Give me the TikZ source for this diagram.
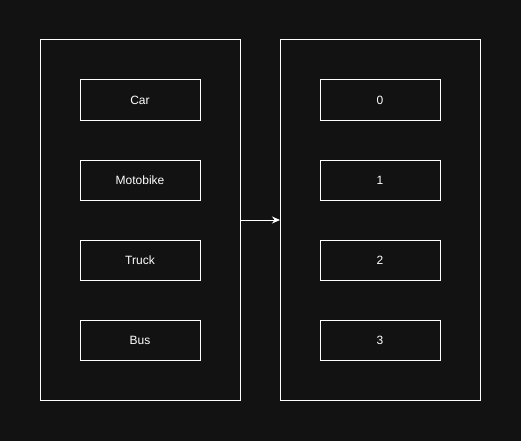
\documentclass[tikz,border=0pt]{standalone}
\usepackage{fontspec}
\setmainfont{Liberation Sans}
\usetikzlibrary{arrows.meta, positioning}
\definecolor{bgdark}{HTML}{121212}
\tikzset{
  group/.style = {rectangle, minimum width=200pt, minimum height=360pt, draw=white, line width=1pt, inner sep=0pt, outer sep=0pt},
  item/.style = {rectangle, minimum width=120pt, minimum height=40pt, draw=white, line width=1pt, fill=bgdark, text=white, font=\fontsize{12}{14}\selectfont, inner sep=0pt, outer sep=0pt},
  arrow/.style = {draw=white, line width=1pt, -{Stealth[length=8pt, width=7pt]}}
}
\begin{document}
\begin{tikzpicture}[x=1pt, y=-1pt, node distance=40pt]
  \fill[bgdark] (0,0) rectangle (521,441);
  \useasboundingbox (0,0) rectangle (521,441);
  % containers
  \node (left)[group] at (140,220) {};
  \node (right)[group, right=40pt of left] {};
  % vehicle names
  \node (car)[item] at (140,100) {Car};
  \node (moto)[item, below=of car] {Motobike};
  \node (truck)[item, below=of moto] {Truck};
  \node (bus)[item, below=of truck] {Bus};
  % indices
  \node (zero)[item] at (380,100) {0};
  \node (one)[item, below=of zero] {1};
  \node (two)[item, below=of one] {2};
  \node (three)[item, below=of two] {3};
  \draw[arrow] (left) -- (right);
\end{tikzpicture}
\end{document}
